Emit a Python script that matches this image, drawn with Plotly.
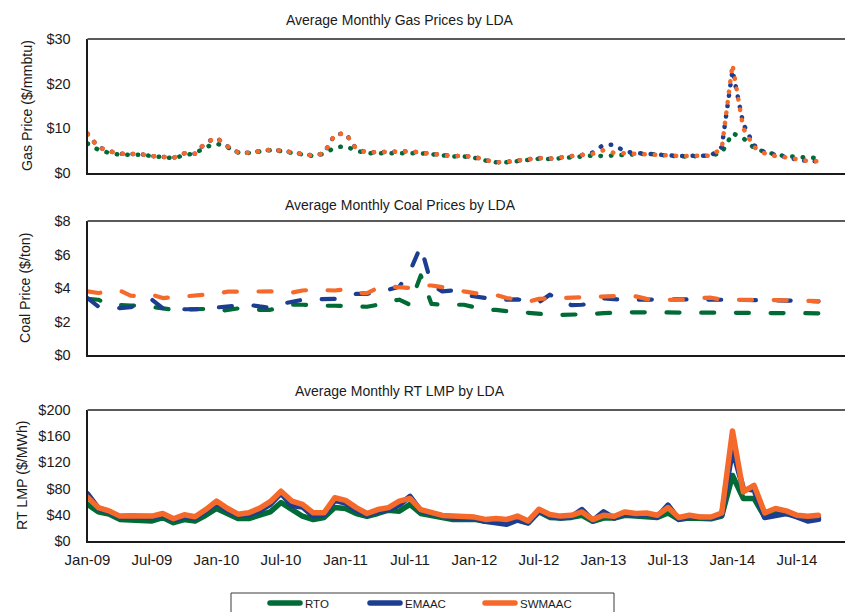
import plotly.graph_objects as go

MON = ["Jan", "Feb", "Mar", "Apr", "May", "Jun", "Jul", "Aug", "Sep", "Oct", "Nov", "Dec"]
months = [f"{m}-{y:02d}" for y in range(9, 15) for m in MON][:69]  # Jan-09 .. Sep-14
tick_labels = months[::6]

series_names = ["RTO", "EMAAC", "SWMAAC"]
colors = {"RTO": "#006B35", "EMAAC": "#1C3E90", "SWMAAC": "#F5692A"}

gas_ticks = [0, 10, 20, 30]
coal_ticks = [0, 2, 4, 6, 8]
lmp_ticks = [0, 40, 80, 120, 160, 200]

gas_rto = [6.6, 5.2, 4.5, 4.1, 4.1, 4.1, 3.8, 3.5, 3.3, 4.0, 4.4, 5.8, 6.6, 5.8, 4.6, 4.5, 4.8, 5.1, 4.9, 4.5,
           4.0, 3.8, 4.3, 5.7, 6.0, 5.0, 4.4, 4.4, 4.5, 4.6, 4.6, 4.4, 4.2, 3.9, 3.7, 3.7, 3.4, 2.8, 2.4, 2.4,
           2.6, 2.9, 3.2, 3.1, 3.3, 3.6, 3.9, 3.9, 3.8, 3.9, 4.0, 4.3, 4.3, 4.1, 3.8, 3.7, 3.7, 3.8, 3.9, 4.5,
           8.9, 7.8, 5.6, 4.7, 4.3, 3.7, 3.7, 3.4, 3.4]
gas_emaac = [8.8, 5.8, 4.9, 4.3, 4.25, 4.2, 3.8, 3.55, 3.4, 4.4, 4.3, 6.8, 7.9, 6.0, 4.6, 4.55, 4.85, 5.2, 5.0, 4.6,
             4.1, 3.9, 4.4, 8.6, 8.9, 5.4, 4.6, 4.7, 4.7, 4.9, 4.85, 4.55, 4.3, 3.95, 3.8, 3.8, 3.6, 2.9, 2.4, 2.5,
             2.75, 3.0, 3.35, 3.2, 3.4, 3.7, 4.05, 4.6, 6.3, 6.3, 4.8, 4.5, 4.4, 4.2, 3.95, 3.8, 3.8, 3.85, 3.9, 5.8,
             23.0, 11.0, 6.2, 4.6, 4.0, 3.5, 3.0, 2.7, 2.6]
gas_swmaac = [8.7, 5.8, 4.9, 4.3, 4.25, 4.2, 3.8, 3.55, 3.4, 4.4, 4.3, 6.8, 7.9, 6.0, 4.6, 4.55, 4.85, 5.2, 5.0, 4.6,
              4.1, 3.9, 4.4, 8.6, 8.9, 5.4, 4.6, 4.7, 4.7, 4.9, 4.85, 4.55, 4.3, 3.95, 3.8, 3.8, 3.6, 2.9, 2.4, 2.5,
              2.75, 3.0, 3.35, 3.2, 3.4, 3.7, 4.05, 4.3, 5.1, 4.5, 4.4, 4.5, 4.4, 4.2, 3.95, 3.8, 3.8, 3.85, 3.9, 5.5,
              24.3, 10.0, 5.8, 4.4, 3.8, 3.5, 3.0, 2.7, 2.6]

coal_rto = [3.35, 3.3, 3.0, 2.95, 2.95, 2.95, 2.85, 2.75, 2.7, 2.72, 2.75, 2.75, 2.6, 2.7, 2.78, 2.7, 2.69, 2.7, 2.85, 3.0,
            3.0, 2.95, 2.94, 2.94, 2.9, 2.88, 2.88, 3.0, 3.2, 3.3, 3.0, 4.75, 3.05, 3.0, 2.98, 3.0, 2.85, 2.72, 2.69, 2.6,
            2.55, 2.52, 2.45, 2.4, 2.39, 2.4, 2.45, 2.45, 2.5, 2.55, 2.55, 2.55, 2.55, 2.55, 2.55, 2.55, 2.55, 2.55, 2.55, 2.5,
            2.5, 2.5, 2.5, 2.5, 2.49, 2.49, 2.49, 2.49, 2.49]
coal_emaac = [3.4, 2.9, 2.9, 2.8, 2.85, 3.1, 3.3, 2.8, 2.75, 2.73, 2.73, 2.78, 2.85, 2.9, 2.95, 3.0, 2.9, 2.82, 3.05, 3.2,
              3.3, 3.32, 3.32, 3.35, 3.5, 3.65, 3.65, 3.75, 3.9, 4.08, 5.0, 6.5, 4.2, 3.8, 3.85, 3.6, 3.5, 3.38, 3.3, 3.3,
              3.32, 3.2, 3.15, 3.6, 3.3, 2.98, 3.0, 3.1, 3.38, 3.3, 3.28, 3.3, 3.32, 3.34, 3.33, 3.32, 3.32, 3.32, 3.3, 3.28,
              3.28, 3.28, 3.28, 3.28, 3.26, 3.25, 3.22, 3.22, 3.2]
coal_swmaac = [3.8, 3.7, 3.8, 3.85, 3.55, 3.5, 3.6, 3.4, 3.45, 3.5, 3.5, 3.55, 3.65, 3.78, 3.78, 3.8, 3.84, 3.84, 3.8, 3.72,
               3.85, 3.9, 3.85, 3.85, 3.92, 3.7, 3.7, 4.0, 4.1, 4.07, 4.0, 4.15, 4.15, 4.05, 3.98, 3.8, 3.68, 3.6, 3.58, 3.4,
               3.32, 3.18, 3.35, 3.38, 3.38, 3.45, 3.48, 3.5, 3.5, 3.52, 3.54, 3.5, 3.35, 3.28, 3.28, 3.3, 3.32, 3.4, 3.42, 3.3,
               3.28, 3.28, 3.28, 3.28, 3.28, 3.28, 3.25, 3.22, 3.22]

lmp_rto = [56, 44.5, 41, 33, 32, 31.5, 30.6, 35.8, 28, 32.7, 30.6, 39.3, 49.6, 42, 34.3, 34.3, 38.3, 44.4, 58.7, 48,
           37.8, 32.7, 35.8, 51, 49.6, 42, 37.8, 42, 47, 45.4, 56, 42, 38.3, 35, 32.7, 33, 33, 30, 30, 29,
           33, 28, 44.4, 36, 35, 36, 39.3, 30, 35, 35, 39.3, 38, 38, 36, 42.8, 33, 35, 34, 34, 38,
           100, 65, 65, 36.7, 44.4, 42, 38, 35, 36]
lmp_emaac = [72, 50, 45, 37, 37.5, 37, 36, 40, 32.5, 37, 35, 46, 58, 47, 39.5, 40, 46, 56, 73, 54,
             52, 38, 40, 62, 58, 47, 40, 45, 48, 55, 68, 46, 42, 37, 35, 35, 35, 30, 27, 25.5,
             32, 27.5, 46, 38, 35, 37, 48, 31, 44.4, 35, 42, 40, 41, 37, 54.6, 33, 37, 35, 35, 40,
             140, 80, 78, 36, 39, 42, 36.7, 30.6, 33]
lmp_swmaac = [67, 51, 46, 38, 38.5, 38.5, 38, 42, 34, 40, 37, 48, 61, 50, 41, 43, 50, 60, 76, 61,
              56, 43, 43, 66, 62, 51, 42, 48, 51, 61, 65, 48, 44, 39, 38, 37, 36.5, 33, 34.3, 33,
              38, 30.6, 48.5, 40.5, 38, 39.3, 44.4, 32.7, 39.3, 37.8, 44.4, 42, 42.8, 39.3, 51, 35.8, 39.3, 36.7, 36.7, 42.8,
              168, 75, 85, 43, 49.6, 46, 39.3, 37.8, 39.3]

gas = {"RTO": gas_rto, "EMAAC": gas_emaac, "SWMAAC": gas_swmaac}
coal = {"RTO": coal_rto, "EMAAC": coal_emaac, "SWMAAC": coal_swmaac}
lmp = {"RTO": lmp_rto, "EMAAC": lmp_emaac, "SWMAAC": lmp_swmaac}

W, H = 845, 612
FONT = "Liberation Sans, Arial, sans-serif"
INK = "#1a1a1a"


def px_x(p):
    return p / W


def px_y(p):
    return 1 - p / H


fig = go.Figure()

legend_ids = {"RTO": "legend", "EMAAC": "legend2", "SWMAAC": "legend3"}

for name in series_names:
    fig.add_trace(go.Scatter(x=months, y=gas[name], mode="lines", name=name,
                             line=dict(color=colors[name], width=4.5, dash="0.5px,10px"),
                             xaxis="x", yaxis="y", showlegend=False))
for name in series_names:
    fig.add_trace(go.Scatter(x=months, y=coal[name], mode="lines", name=name,
                             line=dict(color=colors[name], width=4.2, dash="13px,21.7px"),
                             xaxis="x2", yaxis="y2", showlegend=False))
for name in series_names:
    fig.add_trace(go.Scatter(x=months, y=lmp[name], mode="lines", name=name,
                             line=dict(color=colors[name], width=5.5),
                             xaxis="x3", yaxis="y3", showlegend=True, legend=legend_ids[name]))

panels = [(39, 173), (221, 355), (410, 541)]
xr = [0, (W - 87.5) / 10.75]
xdom = [px_x(87.5), 1.0]

common_x = dict(type="category", range=xr, domain=xdom, showgrid=False, zeroline=False,
                showline=True, linecolor=INK, linewidth=2, ticks="", automargin=False,
                tickmode="array", tickvals=tick_labels, ticktext=tick_labels,
                tickfont=dict(family=FONT, size=15, color=INK))
common_y = dict(showgrid=False, zeroline=False, showline=True, linecolor=INK, linewidth=2,
                ticks="", ticklabelstandoff=12, automargin=False, tickmode="array",
                tickfont=dict(family=FONT, size=14.5, color=INK))


def money(vals):
    return [f"${v}" for v in vals]


layout = dict(
    width=W, height=H, margin=dict(l=0, r=0, t=0, b=0, autoexpand=False),
    paper_bgcolor="white", plot_bgcolor="white",
    xaxis=dict(common_x, anchor="y", showticklabels=False),
    xaxis2=dict(common_x, anchor="y2", showticklabels=False),
    xaxis3=dict(common_x, anchor="y3", showticklabels=True, ticklabelstandoff=4),
    yaxis=dict(common_y, anchor="x", domain=[px_y(173), px_y(39)], range=[0, 30],
               tickvals=gas_ticks, ticktext=money(gas_ticks)),
    yaxis2=dict(common_y, anchor="x2", domain=[px_y(355), px_y(221)], range=[0, 8],
                tickvals=coal_ticks, ticktext=money(coal_ticks)),
    yaxis3=dict(common_y, anchor="x3", domain=[px_y(541), px_y(410)], range=[0, 200],
                tickvals=lmp_ticks, ticktext=money(lmp_ticks)),
    showlegend=True,
)

leg_common = dict(orientation="h", xanchor="left", yanchor="middle", bgcolor="rgba(0,0,0,0)",
                  borderwidth=0, font=dict(family=FONT, size=11.5, color=INK), itemwidth=30)
layout["legend"] = dict(leg_common, x=px_x(265), y=px_y(603))
layout["legend2"] = dict(leg_common, x=px_x(365), y=px_y(603))
layout["legend3"] = dict(leg_common, x=px_x(480), y=px_y(603))

fig.update_layout(**layout)

for top, bottom in panels:
    fig.add_shape(type="line", xref="paper", yref="paper", x0=px_x(87.5), x1=1.0,
                  y0=px_y(top), y1=px_y(top), line=dict(color="#5a5a5a", width=2))

fig.add_shape(type="rect", xref="paper", yref="paper", x0=px_x(231), x1=px_x(614),
              y0=px_y(625), y1=px_y(593), line=dict(color="#3a3a3a", width=1))

titles = [("Average Monthly Gas Prices by LDA", 20), ("Average Monthly Coal Prices by LDA", 205),
          ("Average Monthly RT LMP by LDA", 391)]
for text, ypix in titles:
    fig.add_annotation(text=text, xref="paper", yref="paper", x=px_x(400), y=px_y(ypix),
                       showarrow=False, xanchor="center", yanchor="middle",
                       font=dict(family=FONT, size=14, color=INK))

ytitles = [("Gas Price ($/mmbtu)", 27, 106), ("Coal Price ($/ton)", 25, 288), ("RT LMP ($/MWh)", 22, 475)]
for text, xp, yp in ytitles:
    fig.add_annotation(text=text, xref="paper", yref="paper", x=px_x(xp), y=px_y(yp),
                       showarrow=False, textangle=-90, xanchor="center", yanchor="middle",
                       font=dict(family=FONT, size=14.2, color=INK))

post = """
document.body.style.margin = '0';
document.body.style.padding = '0';
document.body.style.overflow = 'hidden';
var gd = document.getElementsByClassName('plotly-graph-div')[0];
function rnd(){
  gd.querySelectorAll('.scatterlayer .js-line, .legendlines path').forEach(function(p){
    p.style.strokeLinecap='round'; p.style.strokeLinejoin='round';
  });
}
rnd();
gd.on('plotly_afterplot', rnd);
"""
fig.write_html("out.html", post_script=post, config={"displayModeBar": False})
